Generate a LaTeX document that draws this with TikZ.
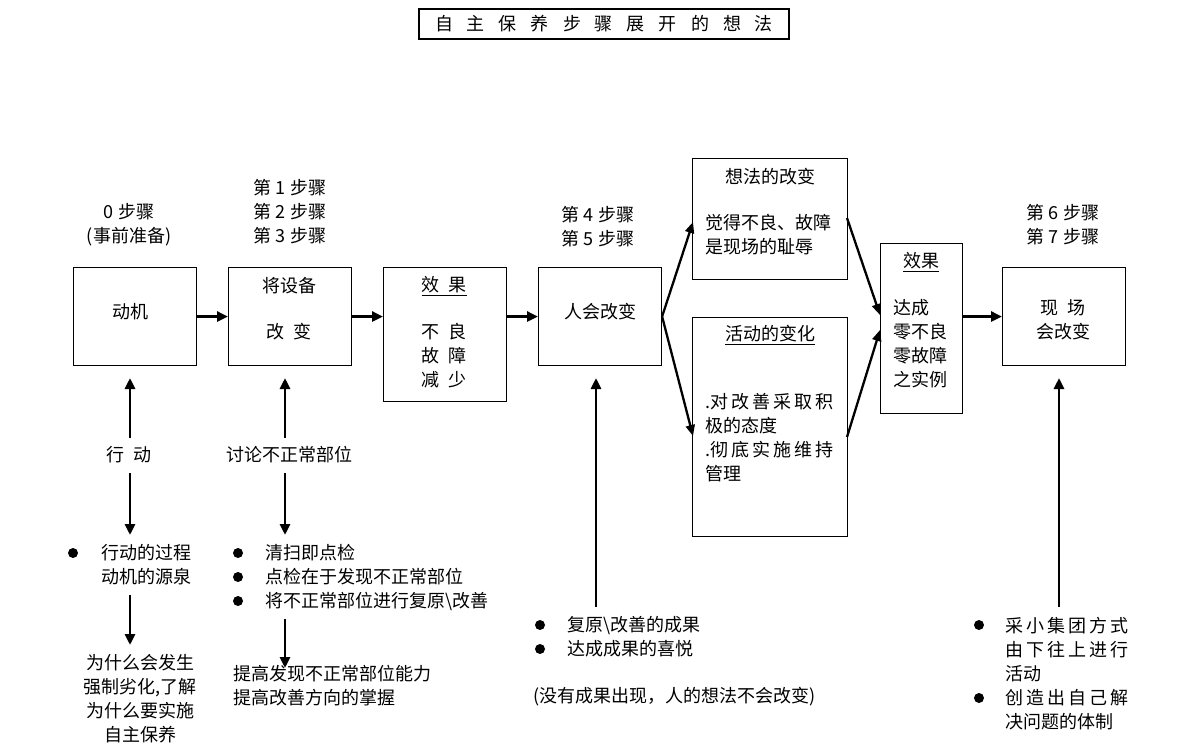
\documentclass[tikz,border=0pt]{standalone}
\usepackage{fontspec}
\setmainfont{Noto Sans CJK SC}
\usetikzlibrary{arrows.meta}
\begin{document}
\begin{tikzpicture}[x=1pt,y=-1pt,
  box/.style={draw, line width=1.1pt, inner sep=0, anchor=north west},
  txt/.style={inner sep=0, font=\fontsize{18pt}{24pt}\selectfont, align=center},
  ltxt/.style={txt, align=left, anchor=west},
  arr/.style={line width=2.8pt, -{Triangle[length=11pt,width=10pt]}},
  darr/.style={line width=2.3pt, -{Triangle[length=11pt,width=9pt]}},
  dot/.style={circle, fill, inner sep=0, minimum size=10pt}
]
\fill[white] (0,0) rectangle (1200,752);
\useasboundingbox (0,0) rectangle (1200,752);

% title
\node[txt, draw, line width=1.1pt, minimum width=370pt, minimum height=30pt] (title) at (604,24)
  {自\hspace{14pt}主\hspace{14pt}保\hspace{14pt}养\hspace{14pt}步\hspace{14pt}骤\hspace{14pt}展\hspace{14pt}开\hspace{14pt}的\hspace{14pt}想\hspace{14pt}法};

% boxes
\node[box, minimum width=123pt, minimum height=98pt] (b1) at (73,267) {};
\node[box, minimum width=123pt, minimum height=98pt] (b2) at (228,267) {};
\node[box, minimum width=123pt, minimum height=134pt] (b3) at (383,267) {};
\node[box, minimum width=123pt, minimum height=98pt] (b4) at (538,267) {};
\node[box, minimum width=155pt, minimum height=121pt] (b5) at (692,158) {};
\node[box, minimum width=155pt, minimum height=219pt] (b6) at (692,317) {};
\node[box, minimum width=82pt, minimum height=170pt] (b7) at (880,243) {};
\node[box, minimum width=123pt, minimum height=98pt] (b8) at (1002,267) {};

% step labels
\node[txt] (l0) at (129,225) {0 步骤\\(事前准备)};
\node[txt] (l1) at (290,212) {第 1 步骤\\第 2 步骤\\第 3 步骤};
\node[txt] (l4) at (598,227) {第 4 步骤\\第 5 步骤};
\node[txt] (l6) at (1063,225) {第 6 步骤\\第 7 步骤};

% box texts
\node[txt] (t1) at (130,312) {动机};
\node[txt] (t2a) at (289,286) {将设备};
\node[txt] (t2b) at (289,332) {改\hspace{9pt}变};
\node[txt] (t3a) at (444,286) {\underline{效\hspace{9pt}果}};
\node[txt] (t3b) at (444,356) {不\hspace{9pt}良\\故\hspace{9pt}障\\减\hspace{9pt}少};
\node[txt] (t4) at (600,312) {人会改变};
\node[txt] (t5a) at (770,177) {想法的改变};
\node[ltxt] (t5b) at (705,235) {觉得不良、故障\\是现场的耻辱};
\node[txt] (t6a) at (770,335) {\underline{活动的变化}};
\node[ltxt] (t6b) at (705,438) {.对\,改\,善\,采\,取\,积\\极的态度\\.彻\,底\,实\,施\,维\,持\\管理};
\node[txt] (t7a) at (921,262) {\underline{效果}};
\node[ltxt] (t7b) at (893,344) {达成\\零不良\\零故障\\之实例};
\node[txt] (t8) at (1063,320) {现\hspace{9pt}场\\会改变};

% horizontal arrows
\draw[arr] (b1.east) -- (b2.west);
\draw[arr] (b2.east) -- (b3.west |- b2.east);
\draw[arr] (b3.east |- b4.east) -- (b4.west);
\draw[arr] (b7.east |- b8.west) -- (b8.west);

% diagonal arrows
\coordinate (b5in) at (693,222);
\coordinate (b6in) at (693,436);
\coordinate (b5out) at (847,218);
\coordinate (b6out) at (847,437);
\coordinate (b7in1) at (880,315);
\coordinate (b7in2) at (880,330);
\draw[darr] (b4.east) -- (b5in);
\draw[darr] (b4.east) -- (b6in);
\draw[darr] (b5out) -- (b7in1);
\draw[darr] (b6out) -- (b7in2);

% lower column 1
\node[txt] (xd) at (129,455) {行\hspace{9pt}动};
\node[dot] (p1) at (73,553) {};
\node[txt] (g1) at (146,565) {行动的过程\\动机的源泉};
\node[txt] (w1) at (140,699) {为什么会发生\\强制劣化,了解\\为什么要实施\\自主保养};
\coordinate (c1a) at (130,438); \coordinate (c1b) at (130,378);
\coordinate (c1c) at (130,473); \coordinate (c1d) at (130,535);
\coordinate (c1e) at (130,595); \coordinate (c1f) at (130,645);
\draw[arr] (c1a) -- (c1b);
\draw[arr] (c1c) -- (c1d);
\draw[arr] (c1e) -- (c1f);

% lower column 2
\node[txt] (tl) at (289,455) {讨论不正常部位};
\node[dot] (p2) at (238,553) {};
\node[dot] (p3) at (238,577) {};
\node[dot] (p4) at (238,601) {};
\node[ltxt] (q1) at (265,577) {清扫即点检\\点检在于发现不正常部位\\将不正常部位进行复原\textbackslash 改善};
\node[ltxt] (q2) at (233,686) {提高发现不正常部位能力\\提高改善方向的掌握};
\coordinate (c2a) at (285,438); \coordinate (c2b) at (285,378);
\coordinate (c2c) at (285,473); \coordinate (c2d) at (285,535);
\coordinate (c2e) at (285,619); \coordinate (c2f) at (285,668);
\draw[arr] (c2a) -- (c2b);
\draw[arr] (c2c) -- (c2d);
\draw[arr] (c2e) -- (c2f);

% lower column 4
\node[dot] (p5) at (540,625) {};
\node[dot] (p6) at (540,649) {};
\node[ltxt] (r1) at (567,637) {复原\textbackslash 改善的成果\\达成成果的喜悦};
\node[ltxt] (r2) at (533,697) {(没有成果出现，人的想法不会改变)};
\coordinate (c4a) at (596,607); \coordinate (c4b) at (596,378);
\draw[arr] (c4a) -- (c4b);

% lower column 8
\node[dot] (p7) at (979,625) {};
\node[dot] (p8) at (979,698) {};
\node[ltxt] (s1) at (1005,674) {采\,小\,集\,团\,方\,式\\由\,下\,往\,上\,进\,行\\活动\\创\,造\,出\,自\,己\,解\\决问题的体制};
\coordinate (c8a) at (1059,607); \coordinate (c8b) at (1059,378);
\draw[arr] (c8a) -- (c8b);
\end{tikzpicture}
\end{document}
